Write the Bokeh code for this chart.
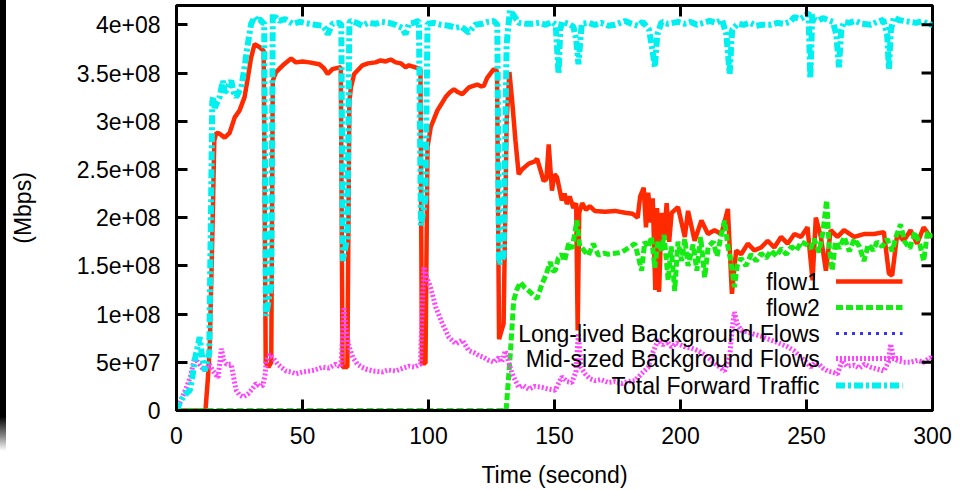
import numpy as np
from bokeh.plotting import figure
from bokeh.models import (ColumnDataSource, FixedTicker, Range1d,
                          CustomJSTickFormatter, Div)
from bokeh.layouts import row
from bokeh.core.properties import value
from bokeh.embed import file_html
from bokeh.resources import INLINE

SCALE = 1e8  # values below are in units of 1e8

x_ticks = [0, 50, 100, 150, 200, 250, 300]
y_ticks = [0, 0.5e8, 1e8, 1.5e8, 2e8, 2.5e8, 3e8, 3.5e8, 4e8]

series_names = ["flow1", "flow2", "Long-lived Background Flows",
                "Mid-sized Background Flows", "Total Forward Traffic"]

flow1_t = [0, 5, 10, 11.5, 12.5, 13.2, 14.2, 15.0, 15.8, 17.1, 19.1, 21.1, 23.1, 25.0, 27.0, 28.3,
           29.6, 31.0, 32.9, 34.6, 35.4, 36.5, 37.6, 38.2, 39.5, 42.2, 45.5, 47.4, 50, 52.7, 56.7,
           58.5, 60.0, 61.9, 63.5, 65.2, 65.9, 67.8, 68.6, 69.2, 70.5, 73.8, 76, 79, 81, 83, 85, 87,
           89, 90.9, 92.2, 94.5, 96.8, 97.4, 98.8, 99.6, 100.9, 103.5, 106.8, 108.5, 110.1, 111.8,
           113.4, 116, 119.3, 121, 122, 123.3, 125.9, 127.2, 128.0, 129.8, 131.0, 132.1, 133.2,
           134.5, 135.8, 137.1, 139.8, 142, 143.1, 145.7, 146.8, 147.7, 149, 150, 151, 152.9, 154,
           154.9, 156, 157.5, 158.6, 159.2, 159.8, 161, 162.5, 164, 166, 170, 174, 178, 181, 183,
           184, 185.4, 186.3, 187.2, 188.2, 189, 190, 190.7, 191.5, 192.5, 193.5, 194.5, 195.5,
           196.5, 199, 201.7, 203, 205.6, 208.3, 210.9, 213.5, 216.2, 218.8, 220.4, 222.1, 224.1,
           226.7, 229.3, 232, 234.6, 237.2, 239.9, 242.5, 245.2, 247.8, 250.4, 252.4, 253.7,
           255.7, 257.7, 259.6, 262.3, 264.9, 268.9, 272.8, 276.8, 280.7, 282.7, 284, 286, 288.6,
           291.3, 293.9, 296.5, 299.2, 300]
flow1_v = [0, 0, 0, 0, 0.35, 0.66, 1.8, 2.80, 2.88, 2.87, 2.83, 2.88, 3.04, 3.11, 3.25, 3.45,
           3.66, 3.80, 3.77, 3.73, 0.50, 0.45, 0.50, 3.42, 3.51, 3.58, 3.65, 3.61, 3.62, 3.61, 3.59,
           3.55, 3.49, 3.54, 3.55, 3.56, 0.45, 0.45, 3.20, 3.35, 3.49, 3.58, 3.60, 3.61, 3.63, 3.62,
           3.64, 3.61, 3.60, 3.56, 3.58, 3.56, 3.54, 0.49, 0.49, 2.73, 2.94, 3.11, 3.25, 3.30, 3.33,
           3.30, 3.28, 3.35, 3.38, 3.36, 3.37, 3.45, 3.54, 3.52, 0.74, 0.90, 3.00, 3.51, 3.21,
           2.80, 2.45, 2.50, 2.56, 2.58, 2.61, 2.38, 2.40, 2.76, 2.28, 2.45, 2.42, 2.18, 2.25,
           2.14, 2.22, 2.10, 2.15, 0.83, 2.05, 2.15, 2.08, 2.12, 2.07, 2.06, 2.07, 2.05, 2.04, 2.00,
           2.22, 2.31, 1.90, 2.26, 1.95, 2.20, 1.25, 2.10, 1.23, 2.05, 1.80, 2.15, 1.75,
           2.05, 2.11, 1.80, 2.07, 1.76, 1.97, 1.83, 1.87, 1.83, 2.09, 1.21, 1.66, 1.62,
           1.73, 1.66, 1.69, 1.76, 1.69, 1.80, 1.73, 1.83, 1.80, 1.90, 1.35, 2.00,
           1.80, 1.45, 1.87, 1.80, 1.87, 1.80, 1.83, 1.83, 1.85, 1.42, 1.40, 1.83, 1.76,
           1.87, 1.73, 1.90, 1.80, 1.82]

flow2_t = [0, 50, 100, 130.8, 132.5, 133.8, 135, 136.5, 138, 139.8, 141.5, 143.1, 145, 146.5,
           148.3, 149.2, 150.3, 151.5, 152.9, 154, 155.6, 157, 158.9, 160, 160.8, 162, 163.5, 165.4,
           167.4, 169.5, 171.4, 174, 176.6, 179, 181.9, 183.2, 184.6, 185.8, 187.2, 188.5, 189.8,
           191, 192.5, 193.5, 195.1, 196.3, 197.7, 199, 200.5, 201.7, 203, 205, 206.5, 208, 209.6,
           211, 213, 214.5, 216, 217.5, 218.8, 220, 221.4, 222.5, 224, 226, 228, 230, 232, 234,
           236, 238, 240, 242, 244, 246, 248, 250, 251.7, 253, 255, 256.5, 258, 259, 260.2, 261.5,
           263, 265, 267, 269, 271, 272.8, 274.5, 276.5, 278, 280, 282, 284, 285.5, 287.3, 289,
           291, 293, 295, 296.5, 298, 300]
flow2_v = [0, 0, 0, 0, 0.60, 1.14, 1.25, 1.33, 1.28, 1.24, 1.20, 1.16, 1.31, 1.40,
           1.54, 1.45, 1.45, 1.58, 1.62, 1.55, 1.73, 1.68, 1.97, 1.70, 1.69, 1.65, 1.61, 1.73,
           1.61, 1.63, 1.62, 1.63, 1.64, 1.68, 1.73, 1.60, 1.45, 1.75, 1.69, 1.80, 1.48,
           1.75, 1.66, 1.82, 1.35, 1.70, 1.24, 1.75, 1.55, 1.78, 1.50, 1.72, 1.45, 1.80, 1.38,
           1.70, 1.75, 1.60, 1.80, 1.97, 1.70, 1.55, 1.28, 1.50, 1.58, 1.50, 1.62, 1.55, 1.63, 1.58,
           1.66, 1.60, 1.68, 1.62, 1.70, 1.66, 1.75, 1.72, 1.68, 1.78, 1.64, 1.85, 2.18, 1.70, 1.45,
           1.75, 1.68, 1.80, 1.65, 1.78, 1.70, 1.55, 1.72, 1.66, 1.75, 1.70, 1.78, 1.65, 1.80,
           1.93, 1.75, 1.68, 1.85, 1.72, 1.55, 1.85, 1.80]

longlived_t = [0, 50, 100, 150, 200, 250, 300]
longlived_v = [0, 0, 0, 0, 0, 0, 0]

mid_t = [0, 2, 4, 5.5, 7.2, 8.5, 9.9, 11.5, 13, 14.5, 16.5, 17.8, 18.8, 19.8, 21.7, 23.0, 23.7, 25,
         26.4, 28.3, 30, 31.6, 33, 34.3, 35.2, 35.6, 37, 38.2, 40.2, 41.5, 43.5, 45.5, 47.4, 50,
         52.7, 55, 58, 60.5, 63.2, 65.2, 66.0, 66.5, 67.2, 68.5, 70, 71.8, 73.5, 75.1, 78, 81.7,
         84, 87, 90, 92.2, 94.5, 96.8, 97.4, 98.2, 99, 100.8, 102.9, 105.5, 108.1, 110.8, 113.4,
         116, 118, 120, 122, 123.9, 126, 127.9, 129, 130.5, 131.8, 133.2, 135.8, 137.5, 139.8,
         142, 145, 148, 150.3, 152.9, 155, 156.9, 158.5, 159.5, 160.5, 162.2, 164, 166.1, 168.5,
         171.4, 174, 176.6, 179, 181.9, 184.5, 187.2, 189, 191.1, 193, 194.5, 196.4, 198.5,
         201.7, 204, 207, 209.5, 212.2, 214.5, 217.5, 219.5, 220.5, 221.4, 222.5, 224.1, 227,
         229.3, 232, 235.9, 239, 242.5, 245, 247.8, 250, 251.7, 253.5, 255, 256.5, 258.3, 260,
         262.3, 264.3, 266, 268.9, 271, 273, 275.4, 278, 280.7, 282.5, 283.4, 284.5, 286, 288.5,
         291.3, 294, 296.5, 299.2, 300]
mid_v = [0.0, 0.12, 0.24, 0.35, 0.55, 0.50, 0.45, 0.42, 0.48, 0.41, 0.34, 0.64, 0.52, 0.48, 0.48,
         0.30, 0.21, 0.16, 0.14, 0.17, 0.22, 0.28, 0.25, 0.26, 0.38, 0.52, 0.58, 0.55, 0.48, 0.45,
         0.41, 0.40, 0.38, 0.40, 0.41, 0.42, 0.45, 0.44, 0.48, 0.45, 0.80, 1.07, 0.85, 0.66, 0.55,
         0.48, 0.45, 0.43, 0.41, 0.40, 0.42, 0.41, 0.44, 0.46, 0.45, 0.48, 1.00, 1.49, 1.40, 1.28,
         1.07, 0.90, 0.76, 0.69, 0.73, 0.62, 0.60, 0.57, 0.55, 0.52, 0.50, 0.55, 0.50, 0.62, 0.50,
         0.38, 0.24, 0.26, 0.22, 0.25, 0.24, 0.22, 0.21, 0.35, 0.30, 0.29, 0.40, 0.80, 0.45, 0.38,
         0.33, 0.31, 0.32, 0.29, 0.30, 0.28, 0.30, 0.31, 0.38, 0.45, 0.60, 0.73, 0.68, 0.72, 0.66,
         0.70, 0.66, 0.65, 0.62, 0.58, 0.52, 0.47, 0.41, 0.55, 0.85, 1.02, 0.90, 0.83, 0.81, 0.79,
         0.77, 0.73, 0.70, 0.66, 0.62, 0.55, 0.50, 0.45, 0.50, 0.48, 0.44, 0.41, 0.40, 0.38, 0.52,
         0.46, 0.47, 0.44, 0.48, 0.45, 0.43, 0.41, 0.50, 0.69, 0.55, 0.52, 0.50, 0.50, 0.52, 0.50,
         0.55, 0.53]

total_t = [0, 1.3, 2.6, 4, 5.3, 6.3, 7.2, 8.3, 9.2, 10.2, 11.2, 12.5, 13.0, 14.2, 14.5, 15.2, 16.2,
           17.1, 18.4, 19.1, 19.8, 20.8, 21.7, 22.7, 23.7, 24.7, 25.7, 27.0, 28.3, 29.6, 31.0,
           32.0, 32.9, 34.3, 34.8, 35.5, 37.6, 38.2, 40.8, 43, 46.1, 49, 52.7, 55, 58, 59.2, 60,
           61.9, 64.6, 65.4, 66.0, 67.8, 68.6, 69.2, 71.5, 73.8, 76, 79, 81.5, 84.3, 87, 89.5,
           90.9, 92.2, 94, 96.2, 97.0, 98.8, 99.6, 102, 105, 108, 110.8, 113, 116, 118.5, 121.3,
           123.5, 125.9, 127.3, 128.0, 129.8, 131.0, 132.3, 133.2, 135.8, 138.5, 141.1, 144,
           146.5, 149, 150.5, 151.6, 152.3, 153, 155.5, 157.5, 158.6, 159.5, 160.8, 163.5, 166,
           168.5, 171.4, 174, 176, 178, 180.5, 183.2, 185, 187.5, 188.8, 189.8, 190.8, 192.5, 195,
           197, 199, 201.5, 204, 206.5, 209, 211.5, 214, 216.5, 218.2, 219.5, 220.5, 222.8, 225,
           227.5, 230, 232.5, 235.9, 238.5, 241, 243.5, 245.2, 247.5, 249.5, 250.8, 251.5, 252.3,
           253.5, 254.4, 256.5, 258.5, 260.5, 261.8, 262.9, 263.8, 264.9, 267, 269.5, 272, 275.5,
           278, 280.5, 282.0, 282.7, 283.5, 284.7, 286.5, 288.6, 291, 293.5, 296, 298, 300]
total_v = [0, 0.08, 0.14, 0.18, 0.21, 0.35, 0.52, 0.65, 0.76, 0.55, 0.41, 0.55, 0.60, 3.20, 3.25,
           3.14, 3.20, 3.25, 3.42, 3.30, 3.32, 3.38, 3.42, 3.30, 3.25, 3.30, 3.35, 3.56, 3.80, 4.01,
           4.08, 4.04, 4.06, 4.02, 4.02, 0.98, 1.30, 4.11, 4.04, 4.06, 4.01, 4.03, 4.01, 4.00, 3.99,
           3.95, 3.90, 4.01, 4.02, 4.00, 1.55, 1.80, 4.02, 4.04, 4.02, 3.99, 4.02, 4.01, 4.03, 4.02,
           4.00, 3.97, 3.90, 4.01, 4.02, 4.04, 1.92, 2.20, 4.01, 4.02, 4.00, 3.99, 3.97, 3.98, 3.92,
           4.00, 4.01, 4.03, 4.04, 4.00, 1.52, 1.60, 3.80, 4.15, 4.12, 4.02, 4.01, 4.01, 4.02, 4.00,
           4.03, 4.00, 3.49, 3.95, 4.03, 4.01, 3.98, 3.85, 3.59, 4.01, 4.02, 4.00, 4.02, 3.99, 4.00,
           4.02, 4.04, 4.01, 3.99, 4.03, 3.95, 3.75, 3.56, 3.90, 4.03, 4.01, 4.02, 4.03, 4.01, 4.03,
           4.00, 4.02, 4.04, 4.02, 4.05, 3.90, 3.49, 3.95, 4.01, 4.00, 4.02, 3.99, 4.00, 4.00, 4.02,
           4.01, 4.03, 4.08, 4.06, 4.09, 4.13, 3.44, 4.10, 4.05, 4.04, 4.07, 4.05, 4.03, 3.90, 3.56,
           3.95, 4.03, 4.02, 4.04, 4.01, 4.00, 4.03, 4.05, 3.90, 3.54, 3.95, 4.08, 4.05, 4.04, 4.03,
           4.02, 4.04, 4.01, 4.00]

FONT = "Liberation Sans"
FS = "23px"
colors = ["#ff2a00", "#14ec14", "#3434ff", "#ff44ff", "#00f0f0"]
widths = [4.5, 5, 3, 5, 6]
dashes = ["solid", "7 3", "3 5", "2 2", "9 3 3 3"]

X_MIN, X_MAX = 0, 300
Y_MIN, Y_MAX = 0, 4.2e8

p = figure(width=967, height=490, output_backend="svg", toolbar_location=None,
           x_range=Range1d(X_MIN, X_MAX), y_range=Range1d(Y_MIN, Y_MAX),
           min_border_left=167, min_border_right=41, min_border_top=5, min_border_bottom=80,
           x_axis_label="Time (second)", y_axis_label="(Mbps)")
p.xgrid.visible = False
p.ygrid.visible = False
p.outline_line_color = "black"
p.outline_line_width = 3
p.outline_line_alpha = 1

fmt = CustomJSTickFormatter(code="""
if (tick == 0) { return "0"; }
var s = tick.toExponential();
var parts = s.split("e");
var ex = parseInt(parts[1]);
var sign = ex < 0 ? "-" : "+";
var a = Math.abs(ex);
return parts[0] + "e" + sign + (a < 10 ? "0" + a : "" + a);
""")

for ax in p.xaxis:
    ax.ticker = FixedTicker(ticks=x_ticks)
for ax in p.yaxis:
    ax.ticker = FixedTicker(ticks=y_ticks)
    ax.formatter = fmt

for ax in list(p.xaxis) + list(p.yaxis):
    ax.major_tick_in = 11
    ax.major_tick_out = 0
    ax.minor_tick_in = 0
    ax.minor_tick_out = 0
    ax.major_tick_line_width = 3
    ax.axis_line_width = 3
    ax.major_label_text_font = FONT
    ax.major_label_text_font_size = FS
    ax.major_label_text_color = "black"
    ax.axis_label_text_font = FONT
    ax.axis_label_text_font_size = FS
    ax.axis_label_text_font_style = "normal"
    ax.axis_label_text_color = "black"

p.xaxis.major_label_standoff = 16
p.xaxis.axis_label_standoff = 15
p.yaxis.major_label_standoff = 16
p.yaxis.axis_label_standoff = 38

all_t = [flow1_t, flow2_t, longlived_t, mid_t, total_t]
all_v = [flow1_v, flow2_v, longlived_v, mid_v, total_v]
for t, v, c, w, d in zip(all_t, all_v, colors, widths, dashes):
    src = ColumnDataSource(dict(x=t, y=np.array(v) * SCALE))
    p.line("x", "y", source=src, line_color=c, line_width=w, line_dash=d)

# mirrored inward ticks on the top and right edges (gnuplot "mirror" style)
tick_dx = 4.35      # ~11 px in x data units
tick_dy = 0.114e8   # ~11 px in y data units
p.segment(x0=x_ticks, y0=[Y_MAX] * len(x_ticks), x1=x_ticks, y1=[Y_MAX - tick_dy] * len(x_ticks),
          line_color="black", line_width=3)
p.segment(x0=[X_MAX] * len(y_ticks), y0=y_ticks, x1=[X_MAX - tick_dx] * len(y_ticks), y1=y_ticks,
          line_color="black", line_width=3)

# gnuplot-style key: text right-aligned, sample to the right
leg_text_x = 255.3
leg_x0, leg_x1 = 261.7, 288.1
leg_y = [1.337e8, 1.067e8, 0.798e8, 0.539e8, 0.259e8]
for name, c, w, d, yy in zip(series_names, colors, widths, dashes, leg_y):
    p.line([leg_x0, leg_x1], [yy, yy], line_color=c, line_width=w, line_dash=d)
p.text(x=[leg_text_x] * 5, y=leg_y, text=series_names, text_align="right",
       text_baseline="middle", text_font=value(FONT), text_font_size=FS,
       text_color="black")

edge = Div(width=6, height=490, margin=0, styles={
    "background": "linear-gradient(to bottom, #000 0%, #000 85%, #888 89%, #fff 92%)"})
layout = row(edge, p, spacing=0)

open("out.html", "w").write(file_html(layout, INLINE))
